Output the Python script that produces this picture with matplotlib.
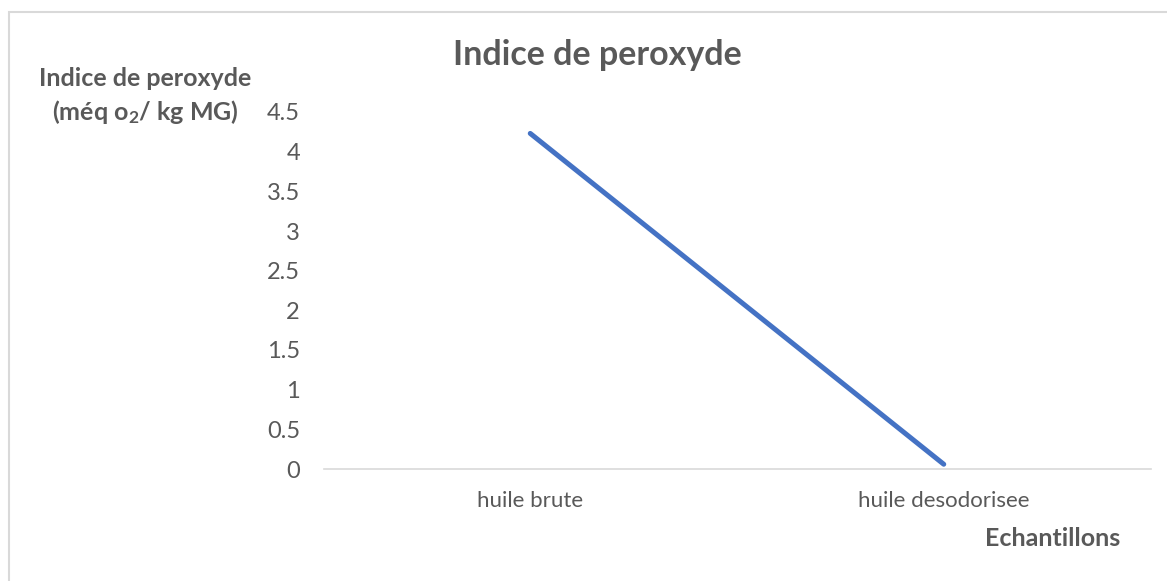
import matplotlib
matplotlib.use("Agg")
import matplotlib.pyplot as plt
from matplotlib.patches import Rectangle

categories = ["huile brute", "huile desodorisee"]
values = [4.23, 0.06]
yticks = [0, 0.5, 1, 1.5, 2, 2.5, 3, 3.5, 4, 4.5]

plt.rcParams['font.family'] = ['Lato', 'DejaVu Sans']
plt.rcParams['mathtext.default'] = 'regular'

W, H = 1167, 581
fig = plt.figure(figsize=(W / 100, H / 100), dpi=100)
fig.patch.set_facecolor('white')

# outer chart border
fig.patches.append(Rectangle((9 / W, -0.05), 1.2, (581 - 12) / H + 0.05,
                             transform=fig.transFigure, fill=False,
                             edgecolor='#d9d9d9', linewidth=1.5))

left, right = 323.5 / W, 1150.5 / W
bottom, top = (H - 469) / H, (H - 112) / H
ax = fig.add_axes([left, bottom, right - left, top - bottom])

x = list(range(len(categories)))
ax.plot(x, values, color='#4472c4', linewidth=3.6, solid_capstyle='round')
ax.set_xlim(-0.5, len(categories) - 0.5)
ax.set_ylim(0, 4.5)
ax.set_yticks(yticks)
ax.set_yticklabels([f"{t:g}" for t in yticks])
ax.set_xticks(x)
ax.set_xticklabels(categories)

for s in ['top', 'right', 'left']:
    ax.spines[s].set_visible(False)
ax.spines['bottom'].set_color('#d9d9d9')
ax.spines['bottom'].set_linewidth(1.2)
ax.tick_params(axis='y', length=0, colors='#595959', labelsize=17, pad=17)
ax.tick_params(axis='x', length=0, colors='#595959', labelsize=16, pad=16)

fig.text(597 / W, 1 - 55 / H, "Indice de peroxyde", ha='center', va='center',
         fontsize=24.5, fontweight='bold', color='#595959')
fig.text(145 / W, 1 - 79 / H, "Indice de peroxyde", ha='center', va='center',
         fontsize=18, fontweight='bold', color='#595959')
fig.text(145 / W, 1 - 112 / H, "(méq o$_2$/ kg MG)", ha='center', va='center',
         fontsize=18, fontweight='bold', color='#595959')
fig.text(1053 / W, 1 - 538 / H, "Echantillons", ha='center', va='center',
         fontsize=18, fontweight='bold', color='#595959')

fig.savefig("out.png", dpi=100, facecolor='white')
